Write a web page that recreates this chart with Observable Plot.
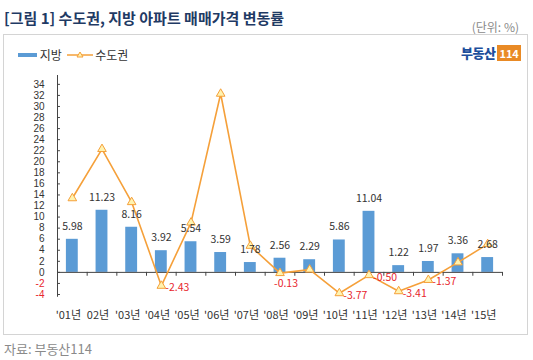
<!DOCTYPE html>
<html><head><meta charset="utf-8">
<script src="https://cdn.jsdelivr.net/npm/d3@7"></script>
<script src="https://cdn.jsdelivr.net/npm/@observablehq/plot@0.6"></script>
<style>
body{margin:0;background:#fff;font-family:"Noto Sans CJK KR","Noto Sans",sans-serif;}
#wrap{position:relative;width:533px;height:360px;overflow:hidden;}
#title{position:absolute;left:4px;top:9px;font-size:15px;line-height:18px;font-weight:bold;color:#1f3a64;white-space:nowrap;}
#unit{position:absolute;right:14px;top:20px;font-size:12px;line-height:14px;color:#8a8a8a;}
#box{position:absolute;left:3px;top:34px;width:525px;height:301px;border:1px solid #d4d4d4;box-sizing:border-box;}
#legend{position:absolute;left:18px;top:46px;font-size:12px;line-height:14px;color:#333;white-space:nowrap;}
#legend span{vertical-align:middle;}
#logo{position:absolute;left:461px;top:45px;height:16px;white-space:nowrap;}
#logo .b{font-size:13px;font-weight:900;color:#1d4f9c;line-height:16px;vertical-align:top;letter-spacing:-0.5px;}
#logo .o{display:inline-block;background:#e98a25;color:#fff;font-size:11px;font-weight:bold;line-height:16px;padding:0 2px;margin-left:2px;vertical-align:top;}
#chart{position:absolute;left:0;top:0;}
#source{position:absolute;left:4px;top:341px;font-size:13px;line-height:16px;color:#8a8a8a;}
</style></head><body>
<div id="wrap">
  <div id="title">[그림 1] 수도권, 지방 아파트 매매가격 변동률</div>
  <div id="unit">(단위: %)</div>
  <div id="box"></div>
  <div id="chart"></div>
  <div id="legend">
    <span style="display:inline-block;width:19px;height:4px;background:#5b9bd5;"></span>
    <span>지방</span>
    <svg width="26" height="10" style="vertical-align:middle;margin-left:2px"><line x1="0" y1="5" x2="26" y2="5" stroke="#f5a03a" stroke-width="1.5"/><path d="M13,2 L16,7 L10,7 Z" fill="#fff3b0" stroke="#f5a03a" stroke-width="1"/></svg>
    <span>수도권</span>
  </div>
  <div id="logo"><span class="b">부동산</span><span class="o">114</span></div>
  <div id="source">자료: 부동산114</div>
</div>
<script>
const years = ["'01년","02년","'03년","'04년","'05년","'06년","'07년","'08년","'09년","'10년","'11년","'12년","'13년","'14년","'15년"];
const jibang = [5.98, 11.23, 8.16, 3.92, 5.54, 3.59, 1.78, 2.56, 2.29, 5.86, 11.04, 1.22, 1.97, 3.36, 2.68];
const sudo = [13.4, 22.3, 12.7, -2.43, 9.0, 32.3, 4.8, -0.13, 0.5, -3.77, -0.50, -3.41, -1.37, 1.8, 5.1];
const yTicks = d3.range(-4, 35, 2);

const data = years.map((year, i) => ({i, year, jibang: jibang[i], sudo: sudo[i]}));
const boundaries = d3.range(-0.5, 15, 1);
const red = "#e8262d";
const axisColor = "#444";
const font = "'Noto Sans CJK KR','Noto Sans',sans-serif";

const chart = Plot.plot({
  width: 533, height: 360,
  marginLeft: 57, marginRight: 31, marginTop: 75, marginBottom: 66,
  style: {fontFamily: font, fontSize: "11px", background: "transparent"},
  x: {domain: [-0.5, 14.5], axis: null},
  y: {domain: [-4, 35.6], axis: null},
  marks: [
    Plot.rect(data, {x1: d => d.i - 0.2, x2: d => d.i + 0.2, y1: 0, y2: "jibang", fill: "#5b9bd5"}),
    Plot.ruleX([-0.5], {y1: -4.5, y2: 35.6, stroke: axisColor}),
    Plot.ruleY(yTicks, {y: d => d, x1: -0.5, x2: -0.4, stroke: axisColor}),
    Plot.text(yTicks, {x: -0.5, y: d => d, text: d => String(d), textAnchor: "end", dx: -13, fill: d => d < 0 ? red : "#333", fontSize: 10, fontFamily: "'Liberation Sans',Arial,sans-serif"}),
    Plot.ruleY([0], {x1: -0.5, x2: 14.5, stroke: axisColor}),
    Plot.ruleX(boundaries, {x: d => d, y1: 0, y2: -0.7, stroke: axisColor}),
    Plot.line(data, {x: "i", y: "sudo", stroke: "#f5a03a", strokeWidth: 1.6}),
    Plot.dot(data, {x: "i", y: "sudo", symbol: "triangle", r: 3.2, fill: "#fff3b0", stroke: "#f5a03a", strokeWidth: 1}),
    Plot.text(data, {x: "i", y: "jibang", text: d => d.jibang.toFixed(2), dy: -13, fill: "#333", fontSize: 10.5}),
    Plot.text(data.filter(d => d.sudo < 0 && d.i !== 7), {x: "i", y: "sudo", text: d => d.sudo.toFixed(2), textAnchor: "start", dx: 4, dy: 2, fill: red, fontSize: 10.5}),
    Plot.text(data.filter(d => d.i === 7), {x: "i", y: "sudo", text: d => d.sudo.toFixed(2), textAnchor: "middle", dx: 6, dy: 11, fill: red, fontSize: 10.5}),
    Plot.text(data, {x: "i", y: -4, text: "year", dy: 21, dx: -4, fill: "#333", fontSize: 11})
  ]
});
document.getElementById("chart").appendChild(chart);
</script>
</body></html>
